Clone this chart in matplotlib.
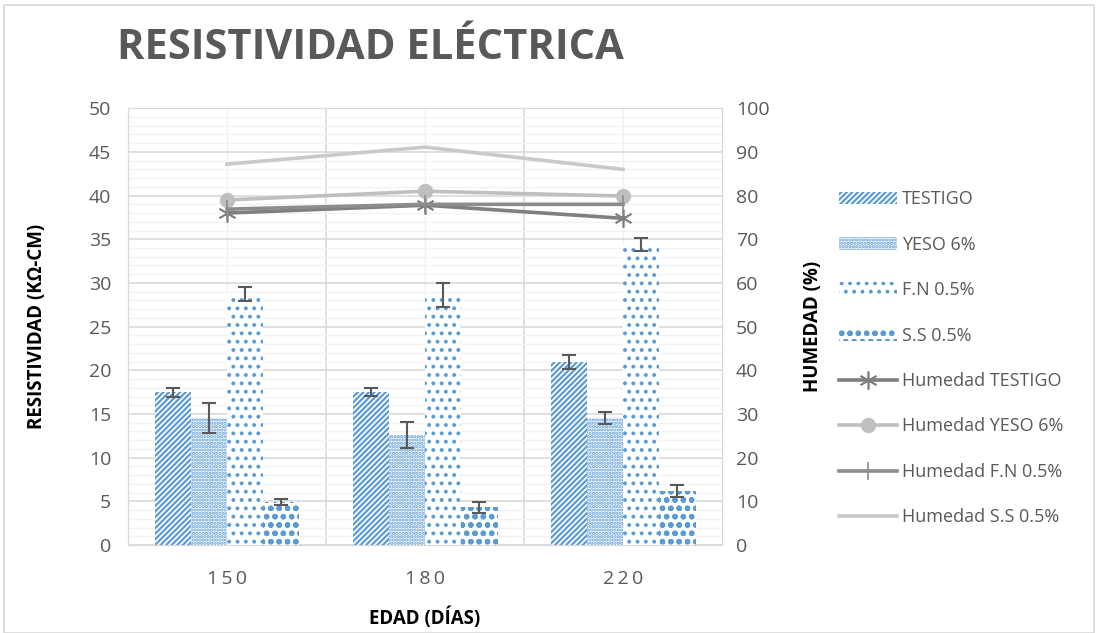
import matplotlib.pyplot as plt
import numpy as np
from matplotlib.patches import Rectangle

plt.rcParams['font.family'] = ['Open Sans', 'DejaVu Sans']
plt.rcParams['hatch.color'] = '#5B9BD5'
plt.rcParams['hatch.linewidth'] = 1.6

# datos
edades = ['150', '180', '220']
series = ['TESTIGO', 'YESO 6%', 'F.N 0.5%', 'S.S 0.5%']
testigo = [17.5, 17.5, 21.0]
testigo_err = [0.5, 0.45, 0.8]
yeso = [14.5, 12.6, 14.5]
yeso_err = [1.7, 1.5, 0.7]
fn = [28.7, 28.6, 34.4]
fn_err = [0.8, 1.4, 0.7]
ss = [4.9, 4.3, 6.2]
ss_err = [0.35, 0.6, 0.7]

hum_testigo = [76.0, 77.8, 74.8]
hum_yeso = [79.0, 81.0, 79.9]
hum_fn = [76.9, 78.0, 78.0]
hum_ss = [87.2, 91.1, 86.0]

valores = [testigo, yeso, fn, ss]
errores = [testigo_err, yeso_err, fn_err, ss_err]
tramas = ['//////', '.....', '..', 'oo']

fig = plt.figure(figsize=(10.97, 6.33), dpi=100)
fig.patches.append(Rectangle((0.004, 0.0), 0.993, 0.992, transform=fig.transFigure,
                             fill=False, edgecolor='#D9D9D9', linewidth=1.2))
ax = fig.add_axes([0.1167, 0.139, 0.5415, 0.69])
ax2 = ax.twinx()

x = np.arange(len(edades))
w = 0.183
for i, (vals, errs, h, nombre) in enumerate(zip(valores, errores, tramas, series)):
    ax.bar(x + (i - 1.5) * w, vals, w, facecolor='white', edgecolor='#5B9BD5',
           hatch=h, linewidth=0, label=nombre, zorder=2)
    ax.errorbar(x + (i - 1.5) * w, vals, yerr=errs, fmt='none', ecolor='#595959',
                elinewidth=1.5, capsize=5, capthick=1.5, zorder=3)

# lineas de humedad
ax2.plot(x, hum_testigo, color='#7F7F7F', lw=2.6, marker=(6, 2, 0), ms=13,
         mew=1.2, label='Humedad TESTIGO')
ax2.plot(x, hum_yeso, color='#BFBFBF', lw=2.6, marker='o', ms=10,
         label='Humedad YESO 6%')
ax2.plot(x, hum_fn, color='#8C8C8C', lw=2.6, marker='|', ms=13, mew=1.2,
         label='Humedad F.N 0.5%')
ax2.plot(x, hum_ss, color='#C9C9C9', lw=2.6, label='Humedad S.S 0.5%')

ax.set_xlim(-0.5, 2.5)
ax.set_ylim(0, 50)
ax2.set_ylim(0, 100)
ax.set_yticks(np.arange(0, 51, 5))
ax.set_yticks(np.arange(0, 51, 1), minor=True)
ax2.set_yticks(np.arange(0, 101, 10))
ax.set_xticks(x)
ax.set_xticklabels(['\u2009'.join(e) for e in edades])
ax.set_xticks([0.5, 1.5], minor=True)

ax.grid(which='major', axis='y', color='#D9D9D9', lw=1.2, zorder=0)
ax.grid(which='minor', axis='y', color='#F2F2F2', lw=1.0, zorder=0)
ax.grid(which='major', axis='x', color='#F0F0F0', lw=1.0, zorder=0)
ax.grid(which='minor', axis='x', color='#D9D9D9', lw=1.2, zorder=0)
ax.set_axisbelow(True)

for a in (ax, ax2):
    for s in a.spines.values():
        s.set_color('#D9D9D9')
    a.tick_params(which='both', length=0, labelsize=14, labelcolor='#595959')
ax.tick_params(axis='y', pad=12)
ax2.tick_params(axis='y', pad=10)
ax.tick_params(axis='x', pad=18)

ax.set_ylabel('RESISTIVIDAD (KΩ-CM)', fontsize=13.5, fontweight='bold', labelpad=30)
ax2.set_ylabel('HUMEDAD (%)', fontsize=13.5, fontweight='bold', labelpad=24)
ax.set_xlabel('EDAD (DÍAS)', fontsize=13.5, fontweight='bold', labelpad=14)

fig.text(0.107, 0.924, 'RESISTIVIDAD ELÉCTRICA', fontsize=30,
         fontweight='bold', color='#595959', va='center', ha='left')

h1, l1 = ax.get_legend_handles_labels()
h2, l2 = ax2.get_legend_handles_labels()
fig.legend(h1 + h2, l1 + l2, loc='center left', bbox_to_anchor=(0.75, 0.434),
           frameon=False, fontsize=13, labelcolor='#595959', handlelength=3.2,
           handleheight=0.7, labelspacing=1.52, handletextpad=0.3)

fig.savefig('out.png', dpi=100)
